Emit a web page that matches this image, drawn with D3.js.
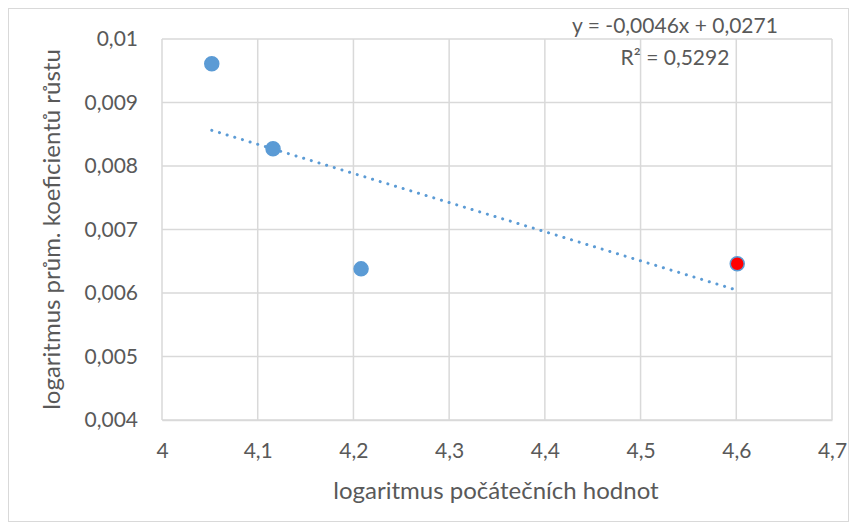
<!DOCTYPE html>
<html>
<head>
<meta charset="utf-8">
<script src="https://cdn.jsdelivr.net/npm/d3@7"></script>
<style>
  body { margin: 0; background: #fff; }
  text { font-family: Lato, "Open Sans", sans-serif; fill: #595959; }
</style>
</head>
<body>
<div id="chart"></div>
<script>
// data
var xValues = [4.052, 4.116, 4.208, 4.601];
var yValues = [0.00961, 0.00827, 0.00638, 0.00646];
var pointColors = ["#5b9bd5", "#5b9bd5", "#5b9bd5", "red"];
var xTicks = [4, 4.1, 4.2, 4.3, 4.4, 4.5, 4.6, 4.7];
var yTicks = [0.004, 0.005, 0.006, 0.007, 0.008, 0.009, 0.01];
var equationLines = ["y = -0,0046x + 0,0271", "R\u00b2 = 0,5292"];

var W = 857, H = 530;
var margin = {top: 39, right: 25, bottom: 110, left: 162},
    width = W - margin.left - margin.right,
    height = H - margin.top - margin.bottom;

var svg = d3.select("#chart").append("svg")
    .attr("width", W)
    .attr("height", H);

// chart frame
svg.append("rect")
    .attr("x", 8.5).attr("y", 8.5)
    .attr("width", W - 17).attr("height", H - 17)
    .attr("fill", "#fff").attr("stroke", "#d9d9d9");

var g = svg.append("g")
    .attr("transform", "translate(" + margin.left + "," + margin.top + ")");

var x = d3.scaleLinear().domain([4, 4.7]).range([0, width]);
var y = d3.scaleLinear().domain([0.004, 0.01]).range([height, 0]);

var comma = function(d) { return String(+d.toFixed(4)).replace(".", ","); };

// gridlines
g.append("g").selectAll("line").data(yTicks).enter().append("line")
    .attr("x1", 0).attr("x2", width)
    .attr("y1", d => y(d)).attr("y2", d => y(d))
    .attr("stroke", "#d9d9d9").attr("stroke-width", 1.5);
g.append("g").selectAll("line").data(xTicks).enter().append("line")
    .attr("x1", d => x(d)).attr("x2", d => x(d))
    .attr("y1", 0).attr("y2", height)
    .attr("stroke", "#d9d9d9").attr("stroke-width", 1.5);

// axes (labels only, lines drawn by grid)
var xAxis = g.append("g")
    .attr("transform", "translate(0," + height + ")")
    .call(d3.axisBottom(x).tickValues(xTicks).tickFormat(comma).tickSize(0).tickPadding(23));
xAxis.select(".domain").attr("stroke", "#d9d9d9").attr("stroke-width", 1.5);
xAxis.selectAll("text").style("font-size", "21px").style("fill", "#595959");

var yAxis = g.append("g")
    .call(d3.axisLeft(y).tickValues(yTicks).tickFormat(comma).tickSize(0).tickPadding(24));
yAxis.select(".domain").remove();
yAxis.selectAll("text").style("font-size", "21px").style("fill", "#595959");

// least squares trendline
var mx = d3.mean(xValues), my = d3.mean(yValues),
    sxy = d3.sum(xValues, (v, i) => (v - mx) * (yValues[i] - my)),
    sxx = d3.sum(xValues, v => (v - mx) * (v - mx)),
    slope = sxy / sxx, icpt = my - slope * mx;
var xr = d3.extent(xValues);

g.append("line")
    .attr("x1", x(xr[0])).attr("y1", y(slope * xr[0] + icpt))
    .attr("x2", x(xr[1])).attr("y2", y(slope * xr[1] + icpt))
    .attr("stroke", "#5b9bd5").attr("stroke-width", 3)
    .attr("stroke-linecap", "round")
    .attr("stroke-dasharray", "0.1 7.9");

// points
g.selectAll("circle").data(xValues).enter().append("circle")
    .attr("cx", d => x(d))
    .attr("cy", (d, i) => y(yValues[i]))
    .attr("r", 7)
    .attr("fill", (d, i) => pointColors[i])
    .attr("stroke", "#5b9bd5").attr("stroke-width", 1.5);

// equation label
svg.append("g").selectAll("text").data(equationLines).enter().append("text")
    .attr("x", 675)
    .attr("y", (d, i) => 33 + i * 32)
    .attr("text-anchor", "middle")
    .style("font-size", "21px")
    .text(d => d);

// axis titles
svg.append("text")
    .attr("x", 496).attr("y", 499)
    .attr("text-anchor", "middle")
    .style("font-size", "24px")
    .text("logaritmus počátečních hodnot");

svg.append("text")
    .attr("transform", "translate(60," + (margin.top + height / 2) + ") rotate(-90)")
    .attr("text-anchor", "middle")
    .style("font-size", "24px")
    .text("logaritmus prům. koeficientů růstu");
</script>
</body>
</html>
